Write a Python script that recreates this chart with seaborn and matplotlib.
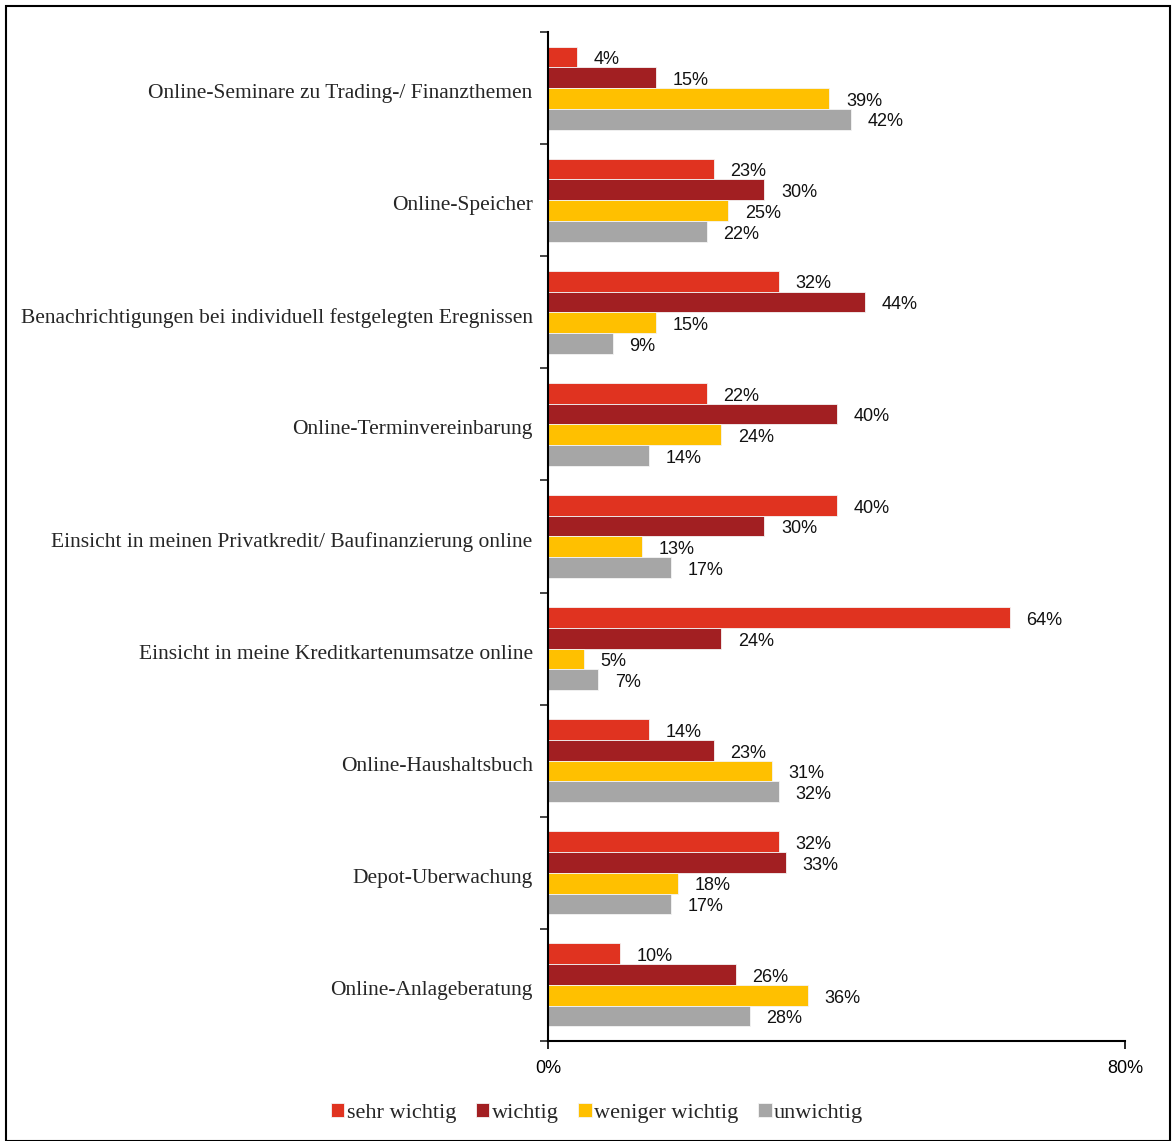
import matplotlib
matplotlib.use("Agg")
import matplotlib.pyplot as plt
import matplotlib.transforms as mtransforms
import seaborn as sns
import pandas as pd
from matplotlib.patches import Rectangle
from matplotlib.ticker import FixedLocator, FuncFormatter

categories = [
    "Online-Seminare zu Trading-/ Finanzthemen",
    "Online-Speicher",
    "Benachrichtigungen bei individuell festgelegten Eregnissen",
    "Online-Terminvereinbarung",
    "Einsicht in meinen Privatkredit/ Baufinanzierung online",
    "Einsicht in meine Kreditkartenumsatze online",
    "Online-Haushaltsbuch",
    "Depot-Uberwachung",
    "Online-Anlageberatung",
]
series = ["sehr wichtig", "wichtig", "weniger wichtig", "unwichtig"]
sehr_wichtig = [4, 23, 32, 22, 40, 64, 14, 32, 10]
wichtig = [15, 30, 44, 40, 30, 24, 23, 33, 26]
weniger_wichtig = [39, 25, 15, 24, 13, 5, 31, 18, 36]
unwichtig = [42, 22, 9, 14, 17, 7, 32, 17, 28]
colors = ["#E03320", "#A21F22", "#FFC000", "#A6A6A6"]

values = [sehr_wichtig, wichtig, weniger_wichtig, unwichtig]
rows = []
for s, vals in zip(series, values):
    for c, v in zip(categories, vals):
        rows.append({"Kategorie": c, "Bewertung": s, "Anteil": v})
df = pd.DataFrame(rows)

sns.set_style("white")
plt.rcParams["font.family"] = ["Liberation Serif", "DejaVu Serif"]

fig = plt.figure(figsize=(11.73, 11.41), dpi=100)
ax = fig.add_axes([548 / 1173, 1 - 1041 / 1141, 577 / 1173, (1041 - 32) / 1141])

sns.barplot(
    data=df, y="Kategorie", x="Anteil", hue="Bewertung",
    order=categories, hue_order=series, palette=colors, saturation=1,
    orient="h", width=0.74, dodge=True, ax=ax,
    edgecolor="#f4f4f4", linewidth=0.6, legend=True,
)

# value labels right of each bar, nudged slightly below the bar centre
for cont in ax.containers:
    texts = ax.bar_label(cont, labels=[f"{int(round(w.get_width()))}%" for w in cont],
                         padding=12, fontsize=13, family="Liberation Sans", color="#111111")
    for t in texts:
        t.xyann = (12, -2)

ax.set_xlim(0, 80)
ax.set_ylim(len(categories) - 0.5, -0.5)
ax.set_xlabel("")
ax.set_ylabel("")

ax.xaxis.set_major_locator(FixedLocator([0, 80]))
ax.xaxis.set_major_formatter(FuncFormatter(lambda v, p: f"{int(v)}%"))
for t in ax.get_xticklabels():
    t.set_family("Liberation Sans")
    t.set_fontsize(13)
ax.tick_params(axis="x", length=6, width=1.2, direction="out", bottom=True, pad=8, colors="black")

ax.tick_params(axis="y", which="major", length=0, pad=11, labelsize=15.5)
ax.yaxis.set_minor_locator(FixedLocator([i - 0.5 for i in range(len(categories) + 1)]))
ax.tick_params(axis="y", which="minor", length=6, width=1.2, direction="out", left=True)
cat_shift = mtransforms.ScaledTranslation(0, -3 / 100, fig.dpi_scale_trans)
for t in ax.get_yticklabels():
    t.set_transform(t.get_transform() + cat_shift)

for side in ["top", "right"]:
    ax.spines[side].set_visible(False)
for side in ["left", "bottom"]:
    ax.spines[side].set_visible(True)
    ax.spines[side].set_color("black")
    ax.spines[side].set_linewidth(1.5)

handles, labels = ax.get_legend_handles_labels()
ax.get_legend().remove()
fig.legend(handles, labels, loc="center", bbox_to_anchor=(597 / 1173, 1 - 1113 / 1141),
           ncol=4, frameon=False, fontsize=16, handlelength=0.6, handleheight=0.6,
           handletextpad=0.1, columnspacing=0.9)

fig.patches.append(Rectangle((6 / 1173, 0.0), 1164 / 1173, 1 - 6 / 1141,
                             transform=fig.transFigure, fill=False,
                             edgecolor="black", linewidth=1.5))

fig.savefig("out.png", dpi=100)
